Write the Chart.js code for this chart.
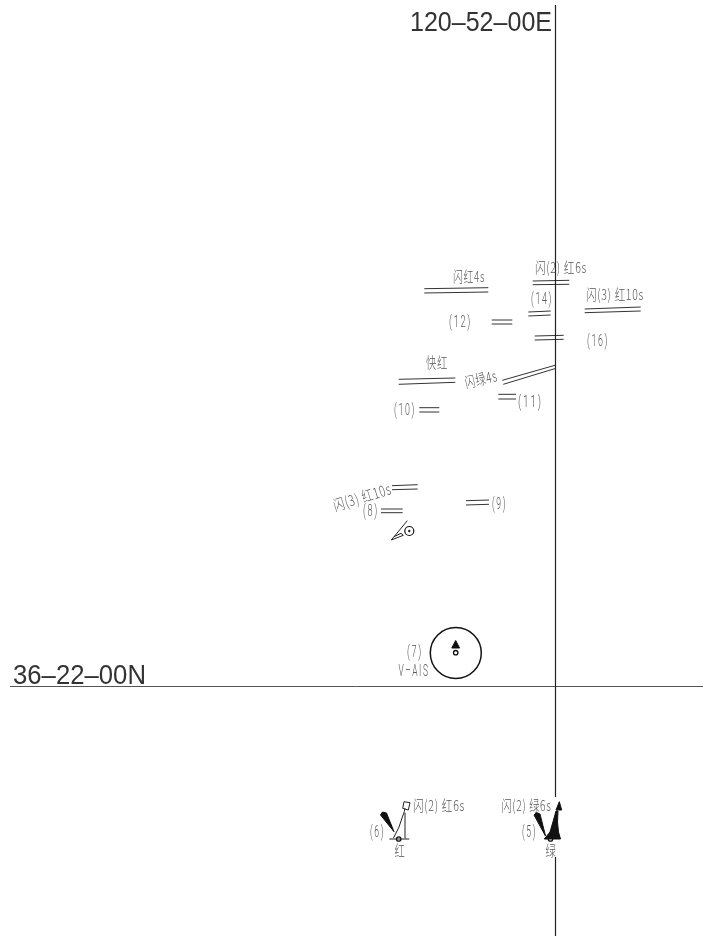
<!DOCTYPE html>
<html><head><meta charset="utf-8">
<style>html,body{margin:0;padding:0;background:#fff}canvas{display:block}</style>
<script src="https://cdn.jsdelivr.net/npm/chart.js@4"></script>
</head><body><canvas id="c" width="703" height="936"></canvas>
<script>
// Meridian and parallel
const meridian = [[[555.5,5],[555.5,797]],[[555.5,857],[555.5,936]]];
const parallel = [[[10,686.5],[703,686.5]]];
// Double-line leading marks
const doubleLines = [
 [[424.3,288.7],[488.3,287.7]],[[424.3,293],[488.3,292]],
 [[532.7,281],[569.3,280.3]],[[532.7,284.7],[569.3,284.3]],
 [[528.3,312],[550.7,311]],[[528.3,316],[550.7,315]],
 [[491.7,320],[512.3,320]],[[491.7,324],[512.3,324]],
 [[534.7,336],[563.7,335.3]],[[534.7,340],[563.7,339.3]],
 [[584.7,309],[640.7,307]],[[584.7,312.7],[640.7,311]],
 [[398.7,379.3],[455.3,378]],[[398.7,384.3],[455.3,382.3]],
 [[502.3,380.3],[556,365]],[[503.3,384.3],[556,368.3]],
 [[498.3,394.3],[516,394.3]],[[498.3,399],[516,399]],
 [[419.3,407.7],[439.3,407.7]],[[419.3,412],[439.3,412]],
 [[392,485.7],[417.7,484.7]],[[392,489.7],[417.7,489]],
 [[381,509],[402.7,509]],[[381,512.7],[402.7,512.7]],
 [[466,500.7],[489,500]],[[466,505],[489,504.3]]
];
// Thin symbol outlines
const outlines = [
 [[407.3,520.7],[391.3,540],[403.3,535.3],[401,533.3],[394,536.7]],
 [[389.3,839],[409.3,839]],
 [[393.5,838],[399,827],[402,818],[404.3,811.7],[405,808.5]],
 [[405.5,838],[405,812.7]],
 [[404,801.7],[410,802.7],[408.3,810],[402.7,808.3],[404,801.7]]
];
// Filled symbol shapes
const solids = [
 [[455.7,640.5],[451.8,648],[459.6,648],[455.7,640.5]],
 [[380.5,815],[382.5,812],[386.5,813],[394,831.7],[380.5,815]],
 [[534,815],[536.5,812.5],[540,814],[545.5,836],[534,815]],
 [[544.3,839],[550,832],[553.5,820],[556,811],[558,811],[557.5,822],[558.5,832],[560.5,839],[544.3,839]],
 [[559.3,801.7],[556,810],[561.7,810],[559.3,801.7]]
];
// Rings: x, y
const ringLarge = [{x:455.8,y:653}];
const ringMedium = [{x:409.3,y:531}];
const ringSmall = [{x:455.7,y:652.7},{x:398.7,y:839},{x:550.5,y:839}];
const ringDot = [{x:409.3,y:531}];
// Text labels
const labelTexts = ["120–52–00E","36–22–00N","闪红4s","闪(2) 红6s","(14)","闪(3) 红10s","(12)","(16)","快红","闪绿4s","(11)","(10)","闪(3) 红10s","(8)","(9)","(7)","V–AIS","闪(2) 红6s","(6)","红","闪(2) 绿6s","(5)","绿"];
const labelCenterX = [481,79.5,469,561,542,615,460.5,598,437,481,530.5,405,362.3,371,499.5,415,414,439,377.5,400,526.5,529.5,551];
const labelCenterY = [24,677,276,267,300,294,323,342,362,379,403,411,497,512,505,653,672,805,833,850,805,833,850];
const labelWidth = [142,133,32,52,22,58,23,22,22,33,25,22,60,16,15,16,31,52,15,11,50,15,11];
const labelAngle = [0,0,0,0,0,0,0,0,0,-13,0,0,-17,0,0,0,0,0,0,0,0,0,0];

const line = (pts,color,w,extra)=>Object.assign({type:'line',data:pts.map(p=>({x:p[0],y:p[1]})),borderColor:color,borderWidth:w,pointRadius:0,fill:false,tension:0},extra||{});
const ring = (pts,r,w,fillCol)=>({type:'scatter',data:pts,pointStyle:'circle',pointRadius:r,pointBorderWidth:w,pointBorderColor:'#111',pointBackgroundColor:fillCol||'rgba(0,0,0,0)',showLine:false});

const datasets = [
 ...meridian.map(s=>line(s,'#222',1.2)),
 ...parallel.map(s=>line(s,'#555',1)),
 ...doubleLines.map(s=>line(s,'#333',1)),
 ...outlines.map(s=>line(s,'#222',1)),
 ...solids.map(s=>line(s,'#111',1,{fill:'shape',backgroundColor:'#111'})),
 ring(ringLarge,25.5,1.5),
 ring(ringMedium,4.5,1.2),
 ring(ringSmall,2.2,1.3,'#fff'),
 ring(ringDot,0.8,1,'#111')
];

const labelPlugin = {
 id:'labels',
 afterDatasetsDraw(chart){
  const {ctx,scales:{x,y}} = chart;
  labelTexts.forEach((t,i)=>{
   const big = i<2;
   ctx.save();
   if(big) ctx.font = '27px "Liberation Sans",sans-serif';
   else if(/[\u4e00-\u9fff]/.test(t)) { ctx.font = '300 15px "Noto Sans CJK SC","Liberation Sans",sans-serif'; ctx.letterSpacing='1px'; }
   else { ctx.font = '300 16px Roboto,"Liberation Sans",sans-serif'; ctx.letterSpacing='3px'; }
   ctx.fillStyle = big?'#333':'#555';
   ctx.textAlign='center'; ctx.textBaseline='middle';
   ctx.translate(x.getPixelForValue(labelCenterX[i]),y.getPixelForValue(labelCenterY[i]));
   ctx.rotate(labelAngle[i]*Math.PI/180);
   ctx.scale(labelWidth[i]/ctx.measureText(t).width,1);
   ctx.fillText(t,0,0);
   ctx.restore();
  });
 }
};

new Chart(document.getElementById('c'),{
 data:{datasets},
 plugins:[labelPlugin],
 options:{
  responsive:false,animation:false,devicePixelRatio:1,
  layout:{padding:0,autoPadding:false},
  plugins:{legend:{display:false},tooltip:{enabled:false},title:{display:false}},
  scales:{
   x:{type:'linear',min:0,max:703,display:false},
   y:{type:'linear',min:0,max:936,reverse:true,display:false}
  }
 }
});
</script></body></html>
